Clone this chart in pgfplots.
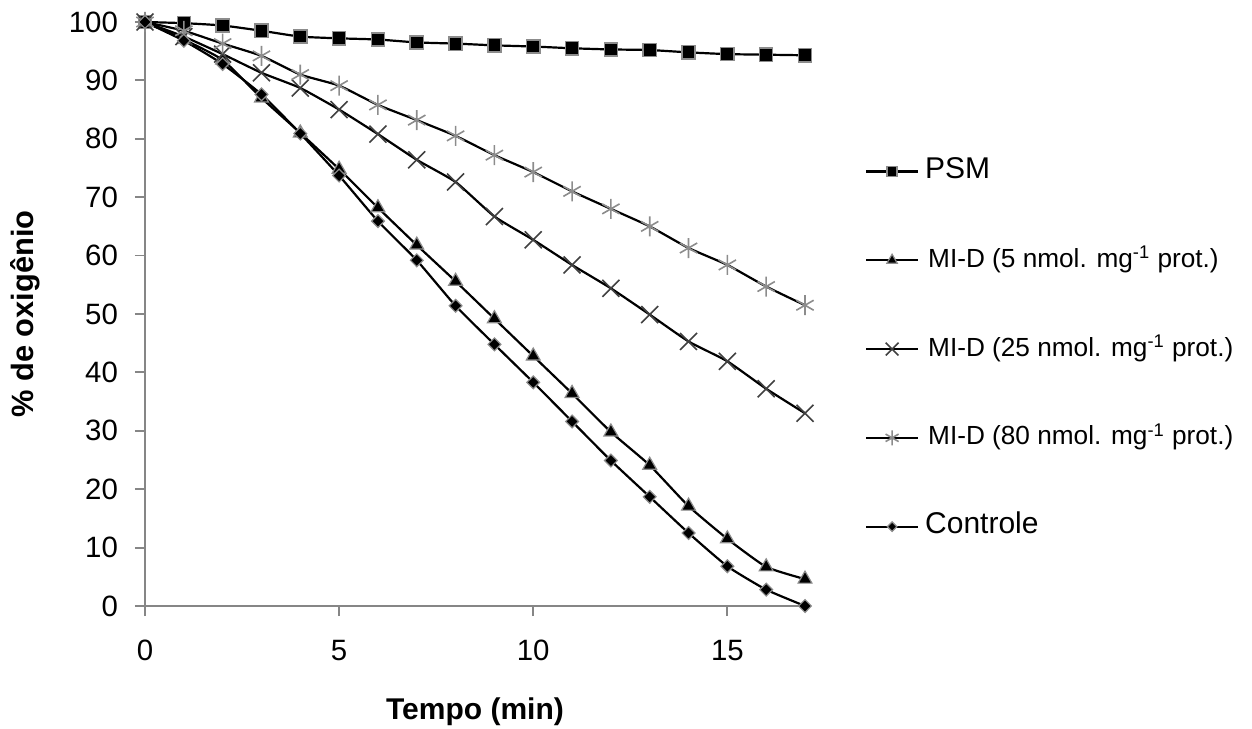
\documentclass[border=0pt]{standalone}
\usepackage{fontspec}
\setmainfont{Liberation Sans}
\usepackage{pgfplots}
\pgfplotsset{compat=1.18}
\definecolor{axgray}{HTML}{868686}
\definecolor{mkgray}{HTML}{8C8C8C}
\definecolor{dkgray}{HTML}{404040}
\begin{document}
\begin{tikzpicture}
\begin{axis}[
  name=ax,
  scale only axis,
  width=330pt, height=292pt,
  xmin=0, xmax=17, ymin=0, ymax=100,
  axis x line=bottom, axis y line=left,
  axis line style={axgray, line width=0.9pt, -},
  tick style={axgray, line width=0.9pt},
  tick align=outside,
  major tick length=5pt,
  xtick={0,5,10,15},
  ytick={0,10,...,100},
  /pgf/number format/assume math mode=true,
  tick label style={font=\fontsize{14.7}{17}\selectfont, black},
  xticklabel style={yshift=-8.5pt},
  yticklabel style={xshift=-5pt},
  xlabel={\textbf{Tempo (min)}},
  ylabel={\textbf{\% de oxigênio}},
  every axis x label/.style={at={(axis description cs:0.5,-0.1815)}, anchor=center, font=\fontsize{15}{18}\selectfont},
  every axis y label/.style={at={(axis description cs:-0.1818,0.5)}, anchor=center, rotate=90, font=\fontsize{15.4}{18}\selectfont},
  clip=false,
  legend cell align=left,
  legend style={draw=none, fill=none, at={(axis description cs:1.0909,0.440)}, anchor=west,
    inner sep=0pt, outer sep=0pt, row sep=29.4pt,
    nodes={inner sep=0pt, text height=11pt, text depth=4pt},
    font=\fontsize{13.1}{16}\selectfont},
  legend image code/.code={
    \draw[black, line width=1.1pt] (0pt,0pt) -- (26pt,0pt);
    \draw[mark repeat=2,mark phase=2, every mark/.append style={scale=0.75}] plot coordinates {(0pt,0pt) (13pt,0pt) (26pt,0pt)};
  },
  every axis plot/.append style={black, line width=1.1pt, smooth, tension=0.3},
]
\addplot[mark=square*, mark size=3.3pt, mark options={fill=black, draw=mkgray, line width=0.7pt}] coordinates {
(0,100) (1,99.8) (2,99.4) (3,98.5) (4,97.5) (5,97.2) (6,97.0) (7,96.5) (8,96.3) (9,96.0) (10,95.8) (11,95.5) (12,95.3) (13,95.2) (14,94.8) (15,94.5) (16,94.4) (17,94.3)};
\addlegendentry{\hspace{3pt}\fontsize{15}{18}\selectfont PSM}
\addplot[mark=triangle*, mark size=4pt, mark options={fill=black, draw=mkgray, line width=0.6pt}] coordinates {
(0,100) (1,97.0) (2,93.5) (3,87.0) (4,81.0) (5,74.8) (6,68.2) (7,61.8) (8,55.6) (9,49.2) (10,42.8) (11,36.4) (12,29.8) (13,24.1) (14,17.1) (15,11.5) (16,6.7) (17,4.6)};
\addlegendentry{\hspace{4.5pt}MI-D (5 nmol. mg\textsuperscript{-1} prot.)}
\addplot[mark=x, mark size=6pt, mark options={draw=dkgray, line width=0.8pt}] coordinates {
(0,100) (1,97.5) (2,94.5) (3,91.3) (4,88.7) (5,85.0) (6,80.8) (7,76.4) (8,72.6) (9,66.7) (10,62.7) (11,58.4) (12,54.4) (13,49.9) (14,45.3) (15,41.9) (16,37.2) (17,33.0)};
\addlegendentry{\hspace{4.5pt}MI-D (25 nmol. mg\textsuperscript{-1} prot.)}
\addplot[mark=asterisk, mark size=5pt, mark options={draw=mkgray, line width=0.8pt}] coordinates {
(0,100) (1,98.5) (2,96.3) (3,94.2) (4,91.0) (5,89.1) (6,85.8) (7,83.2) (8,80.5) (9,77.2) (10,74.3) (11,71.0) (12,68.0) (13,65.0) (14,61.3) (15,58.4) (16,54.7) (17,51.5)};
\addlegendentry{\hspace{4.5pt}MI-D (80 nmol. mg\textsuperscript{-1} prot.)}
\addplot[mark=diamond*, mark size=3.2pt, mark options={fill=black, draw=mkgray, line width=0.6pt, xscale=1.33}] coordinates {
(0,100) (1,96.8) (2,92.8) (3,87.6) (4,80.9) (5,73.7) (6,65.9) (7,59.2) (8,51.4) (9,44.8) (10,38.3) (11,31.6) (12,24.9) (13,18.7) (14,12.5) (15,6.8) (16,2.8) (17,0)};
\addlegendentry{\hspace{3pt}\fontsize{15}{18}\selectfont Controle}
\end{axis}
\pgfresetboundingbox
\path[use as bounding box] ([shift={(-72.5pt,-61pt)}]ax.south west) rectangle ([shift={(553.5pt,303pt)}]ax.south west);
\end{tikzpicture}
\end{document}
